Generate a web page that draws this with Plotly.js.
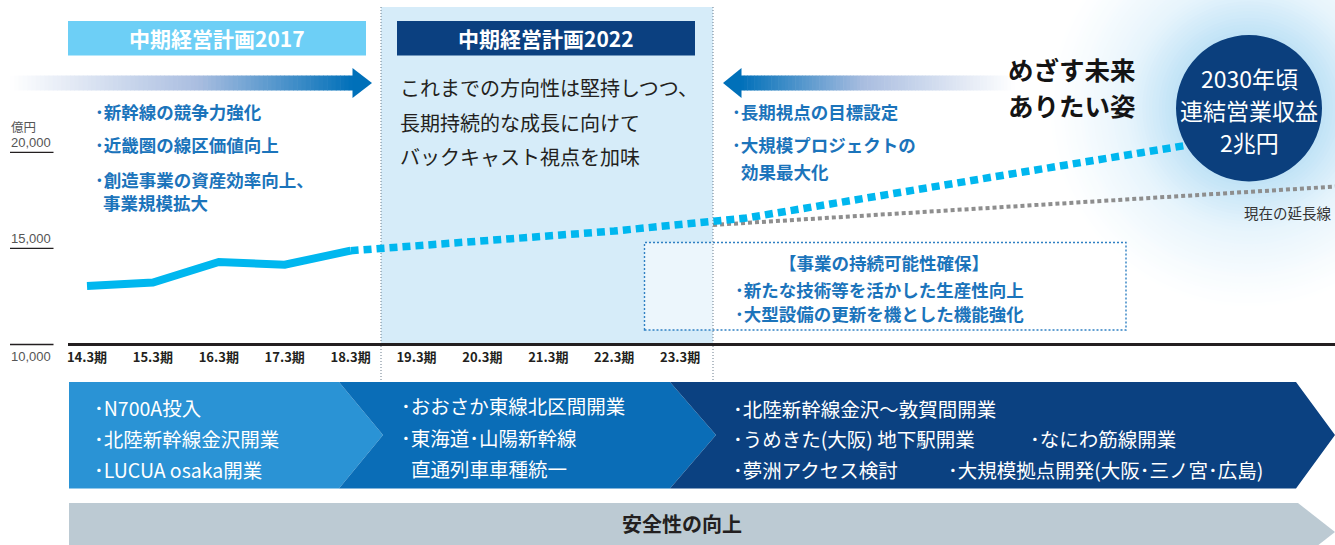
<!DOCTYPE html>
<html><head><meta charset="utf-8">
<script src="https://cdn.plot.ly/plotly-3.0.1.min.js"></script>
<style>html,body{margin:0;padding:0;background:#fff;}#chart{width:1335px;height:545px;}</style>
</head><body><div id="chart"></div>
<script>
// ---------------- data ----------------
const periods = ['14.3期','15.3期','16.3期','17.3期','18.3期','19.3期','20.3期','21.3期','22.3期','23.3期'];
const periodIdx = [0,1,2,3,4,5,6,7,8,9];
const actualIdx = [0,1,2,3,4];
const actualRevenue = [13050,13220,14290,14150,14880];
const targetIdx = [4,6,8,10,12,14,16,17];
const targetRevenue = [14880,15400,15905,16580,17760,18860,19980,20540];
const trendIdx = [9.5,19];
const trendRevenue = [16220,18230];
const yTickValues = [20000,15000,10000];
const yTickLabels = ['20,000','15,000','10,000'];
const yUnit = '億円';

const plan2017Title = '中期経営計画2017';
const plan2022Title = '中期経営計画2022';
const plan2017Points = ['･新幹線の競争力強化','･近畿圏の線区価値向上','･創造事業の資産効率向上、','事業規模拡大'];
const plan2022Text = ['これまでの方向性は堅持しつつ、','長期持続的な成長に向けて','バックキャスト視点を加味'];
const futurePoints = ['･長期視点の目標設定','･大規模プロジェクトの','効果最大化'];
const futureTitle = ['めざす未来','ありたい姿'];
const goalText = ['2030年頃','連結営業収益','2兆円'];
const trendLabel = '現在の延長線';
const sustainTitle = '【事業の持続可能性確保】';
const sustainPoints = ['･新たな技術等を活かした生産性向上','･大型設備の更新を機とした機能強化'];
const band1 = ['･N700A投入','･北陸新幹線金沢開業','･LUCUA osaka開業'];
const band2 = ['･おおさか東線北区間開業','･東海道･山陽新幹線','直通列車車種統一'];
const band3a = ['･北陸新幹線金沢〜敦賀間開業','･うめきた(大阪) 地下駅開業','･夢洲アクセス検討'];
const band3b = ['','･なにわ筋線開業','･大規模拠点開発(大阪･三ノ宮･広島)'];
const safetyText = '安全性の向上';

// ---------------- geometry ----------------
const W = 1335, H = 545;
const X0 = 87, DX = 65.9;          // pixel of first period, spacing
const Y10K = 344.5, K = 0.01922;   // pixel of 10,000 and px per unit
const px = x => x / W;
const py = y => 1 - y / H;
const FONT = '"Noto Sans CJK JP", "Noto Sans", sans-serif';
const BLUE_TXT = '#1b74bb';

function hex2rgb(h){return [parseInt(h.slice(1,3),16),parseInt(h.slice(3,5),16),parseInt(h.slice(5,7),16)];}
function mix(stops, t){
  for(let i=0;i<stops.length-1;i++){
    const [t0,c0]=stops[i],[t1,c1]=stops[i+1];
    if(t<=t1){const u=(t-t0)/(t1-t0);const a=hex2rgb(c0),b=hex2rgb(c1);
      return 'rgb('+a.map((v,k)=>Math.round(v+(b[k]-v)*u)).join(',')+')';}
  }
  return stops[stops.length-1][1];
}
function pathPx(pts){return 'M '+pts.map(p=>px(p[0]).toFixed(5)+','+py(p[1]).toFixed(5)).join(' L ')+' Z';}

const shapes = [];
// glow around goal circle
const GCX=1249, GCY=108;
for(let i=0;i<=40;i++){
  const r = 205 - i*(205-74)/40;
  const t = i/40;
  shapes.push({type:'circle',xref:'paper',yref:'paper',layer:'below',
    x0:px(GCX-r),x1:px(GCX+r),y0:py(GCY+r),y1:py(GCY-r),
    fillcolor:mix([[0,'#ffffff'],[0.55,'#e6f4fc'],[1,'#bfe2f6']],Math.pow(t,1.3)),line:{width:0}});
}
// 2022 plan panel
shapes.push({type:'rect',xref:'paper',yref:'paper',layer:'below',x0:px(381),x1:px(713),y0:py(344.5),y1:py(7),fillcolor:'#d6ecf9',line:{width:0}});
// sustainability dotted box
shapes.push({type:'rect',xref:'paper',yref:'paper',layer:'below',x0:px(644.5),x1:px(1126),y0:py(330),y1:py(242.5),fillcolor:'rgba(255,255,255,0.55)',line:{color:'#2f80c3',width:1.4,dash:'2px,2px'}});
// panel vertical dotted borders
[381,713].forEach(x=>shapes.push({type:'line',xref:'paper',yref:'paper',layer:'below',x0:px(x),x1:px(x),y0:py(7),y1:py(380),line:{color:'#6b7c8c',width:1,dash:'1px,2px'}}));
// header boxes
shapes.push({type:'rect',xref:'paper',yref:'paper',layer:'below',x0:px(68),x1:px(366),y0:py(55.5),y1:py(21),fillcolor:'#6dcff6',line:{width:0}});
shapes.push({type:'rect',xref:'paper',yref:'paper',layer:'below',x0:px(397),x1:px(695),y0:py(55.5),y1:py(21),fillcolor:'#0b4080',line:{width:0}});
// gradient arrows
const gradStops=[[0,'#ffffff'],[0.55,'#a9bde0'],[1,'#0070b9']];
const NSEG=80;
for(let i=0;i<NSEG;i++){
  const a=10+(353-10)*i/NSEG, b=10+(353-10)*(i+1)/NSEG;
  shapes.push({type:'rect',xref:'paper',yref:'paper',layer:'below',x0:px(a),x1:px(b+0.6),y0:py(90.5),y1:py(75.5),fillcolor:mix(gradStops,(i+0.5)/NSEG),line:{width:0}});
}
shapes.push({type:'path',xref:'paper',yref:'paper',layer:'below',path:pathPx([[352.5,68],[372,83],[352.5,98]]),fillcolor:'#0070b9',line:{width:0}});
for(let i=0;i<NSEG;i++){
  const a=741+(1015-741)*i/NSEG, b=741+(1015-741)*(i+1)/NSEG;
  shapes.push({type:'rect',xref:'paper',yref:'paper',layer:'below',x0:px(a-0.6),x1:px(b),y0:py(90.5),y1:py(75.5),fillcolor:mix(gradStops,1-(i+0.5)/NSEG),line:{width:0}});
}
shapes.push({type:'path',xref:'paper',yref:'paper',layer:'below',path:pathPx([[741.5,68],[723,83],[741.5,98]]),fillcolor:'#0070b9',line:{width:0}});
// baseline axis
shapes.push({type:'line',xref:'paper',yref:'y',layer:'below',x0:px(68),x1:1,y0:10000,y1:10000,line:{color:'#231f20',width:3}});
// y tick underlines
yTickValues.forEach(v=>shapes.push({type:'line',xref:'paper',yref:'y',layer:'below',x0:px(10),x1:px(53.5),y0:v,y1:v,line:{color:'#231f20',width:1.3}}));
// milestone bands
shapes.push({type:'path',xref:'paper',yref:'paper',layer:'below',path:pathPx([[69,382],[339,382],[383,435],[339,488.5],[69,488.5]]),fillcolor:'#2a93d5',line:{width:0}});
shapes.push({type:'path',xref:'paper',yref:'paper',layer:'below',path:pathPx([[339,382],[670,382],[716,435],[670,488.5],[339,488.5],[383,435]]),fillcolor:'#0a6db7',line:{width:0}});
shapes.push({type:'path',xref:'paper',yref:'paper',layer:'below',path:pathPx([[670,382],[1296,382],[1335,435],[1296,488.5],[670,488.5],[716,435]]),fillcolor:'#0b4181',line:{width:0}});
shapes.push({type:'path',xref:'paper',yref:'paper',layer:'below',path:pathPx([[69,503],[1298,503],[1335,532],[1298,561],[69,561]]),fillcolor:'#bccad3',line:{width:0}});
// goal circle (above lines)
shapes.push({type:'circle',xref:'paper',yref:'paper',layer:'above',x0:px(1176),x1:px(1322),y0:py(181.5),y1:py(35),fillcolor:'#0b3f7d',line:{width:0}});

// ---------------- annotations ----------------
const ann = [];
function txt(s,x,y,o){ann.push(Object.assign({text:s,xref:'paper',yref:'paper',x:px(x),y:py(y),xanchor:'left',yanchor:'middle',showarrow:false,font:{family:FONT,size:17.5,color:BLUE_TXT}},o||{}));}
txt('<b>'+plan2017Title+'</b>',217,38.5,{xanchor:'center',font:{family:FONT,size:21,color:'#ffffff'}});
txt('<b>'+plan2022Title+'</b>',546,38.5,{xanchor:'center',font:{family:FONT,size:21,color:'#ffffff'}});
[111.5,145,179].forEach((y,i)=>txt('<b>'+plan2017Points[i]+'</b>',93,y));
txt('<b>'+plan2017Points[3]+'</b>',101,202);
[87,122,156].forEach((y,i)=>txt(plan2022Text[i],398,y,{font:{family:FONT,size:20,color:'#231f20'}}));
[111.5,144.5].forEach((y,i)=>txt('<b>'+futurePoints[i]+'</b>',730,y));
txt('<b>'+futurePoints[2]+'</b>',739,171.5);
[68,105].forEach((y,i)=>txt('<b>'+futureTitle[i]+'</b>',1006,y,{font:{family:FONT,size:25.5,color:'#141414'}}));
[77.5,110,142].forEach((y,i)=>txt(goalText[i],1249,y,{xanchor:'center',font:{family:FONT,size:23,color:'#ffffff'}}));
txt(trendLabel,1334,212,{xanchor:'right',font:{family:FONT,size:14.5,color:'#333333'}});
txt('<b>'+sustainTitle+'</b>',884,262,{xanchor:'center'});
[289.5,313.5].forEach((y,i)=>txt('<b>'+sustainPoints[i]+'</b>',733,y));
const WF = {family:FONT,size:19.5,color:'#ffffff'};
[407,438.5,469].forEach((y,i)=>txt(band1[i],92,y,{font:WF}));
[405.5,437].forEach((y,i)=>txt(band2[i],399,y,{font:WF}));
txt(band2[2],409,468,{font:WF});
[408,438.5,469].forEach((y,i)=>txt(band3a[i],731,y,{font:WF}));
[408,438.5,469].forEach((y,i)=>{if(band3b[i])txt(band3b[i],i===1?1028:946,y,{font:WF});});
txt('<b>'+safetyText+'</b>',682,523.5,{xanchor:'center',font:{family:FONT,size:20,color:'#231f20'}});
// y-axis labels
const yLab = {family:'"Liberation Sans", Arial, sans-serif',size:13,color:'#555555'};
ann.push({text:yUnit,xref:'paper',yref:'y',x:px(9),y:yTickValues[0],xanchor:'left',yanchor:'bottom',yshift:14,showarrow:false,font:{family:FONT,size:12.5,color:'#555555'}});
yTickValues.forEach((v,i)=>ann.push({text:yTickLabels[i],xref:'paper',yref:'y',x:px(9),y:v,xanchor:'left',yanchor:v===10000?'top':'bottom',yshift:v===10000?-2:0,showarrow:false,font:yLab}));

// ---------------- traces ----------------
const LINE_BLUE = '#00b7ef';
const traces = [
  {x:trendIdx,y:trendRevenue,type:'scatter',mode:'lines',line:{color:'#8e8e8e',width:4,dash:'4px,3px'},hoverinfo:'skip'},
  {x:targetIdx,y:targetRevenue,type:'scatter',mode:'lines',line:{color:LINE_BLUE,width:7.5,dash:'8px,5px'},hoverinfo:'skip'},
  {x:actualIdx,y:actualRevenue,type:'scatter',mode:'lines',line:{color:LINE_BLUE,width:8},hoverinfo:'skip'}
];

const layout = {
  width:W,height:H,margin:{l:0,r:0,t:0,b:0},paper_bgcolor:'#ffffff',plot_bgcolor:'rgba(0,0,0,0)',
  showlegend:false,
  xaxis:{range:[-X0/DX,(W-X0)/DX],anchor:'free',position:1-Y10K/H,tickmode:'array',tickvals:periodIdx,ticktext:periods,
    showgrid:false,zeroline:false,showline:false,ticks:'',ticklabelstandoff:3,
    tickfont:{family:FONT,size:13,color:'#231f20',weight:'bold'}},
  yaxis:{range:[10000-(H-Y10K)/K,10000+Y10K/K],visible:false,showgrid:false,zeroline:false},
  shapes:shapes,annotations:ann
};
Plotly.newPlot('chart',traces,layout,{staticPlot:true,displayModeBar:false});
</script></body></html>
